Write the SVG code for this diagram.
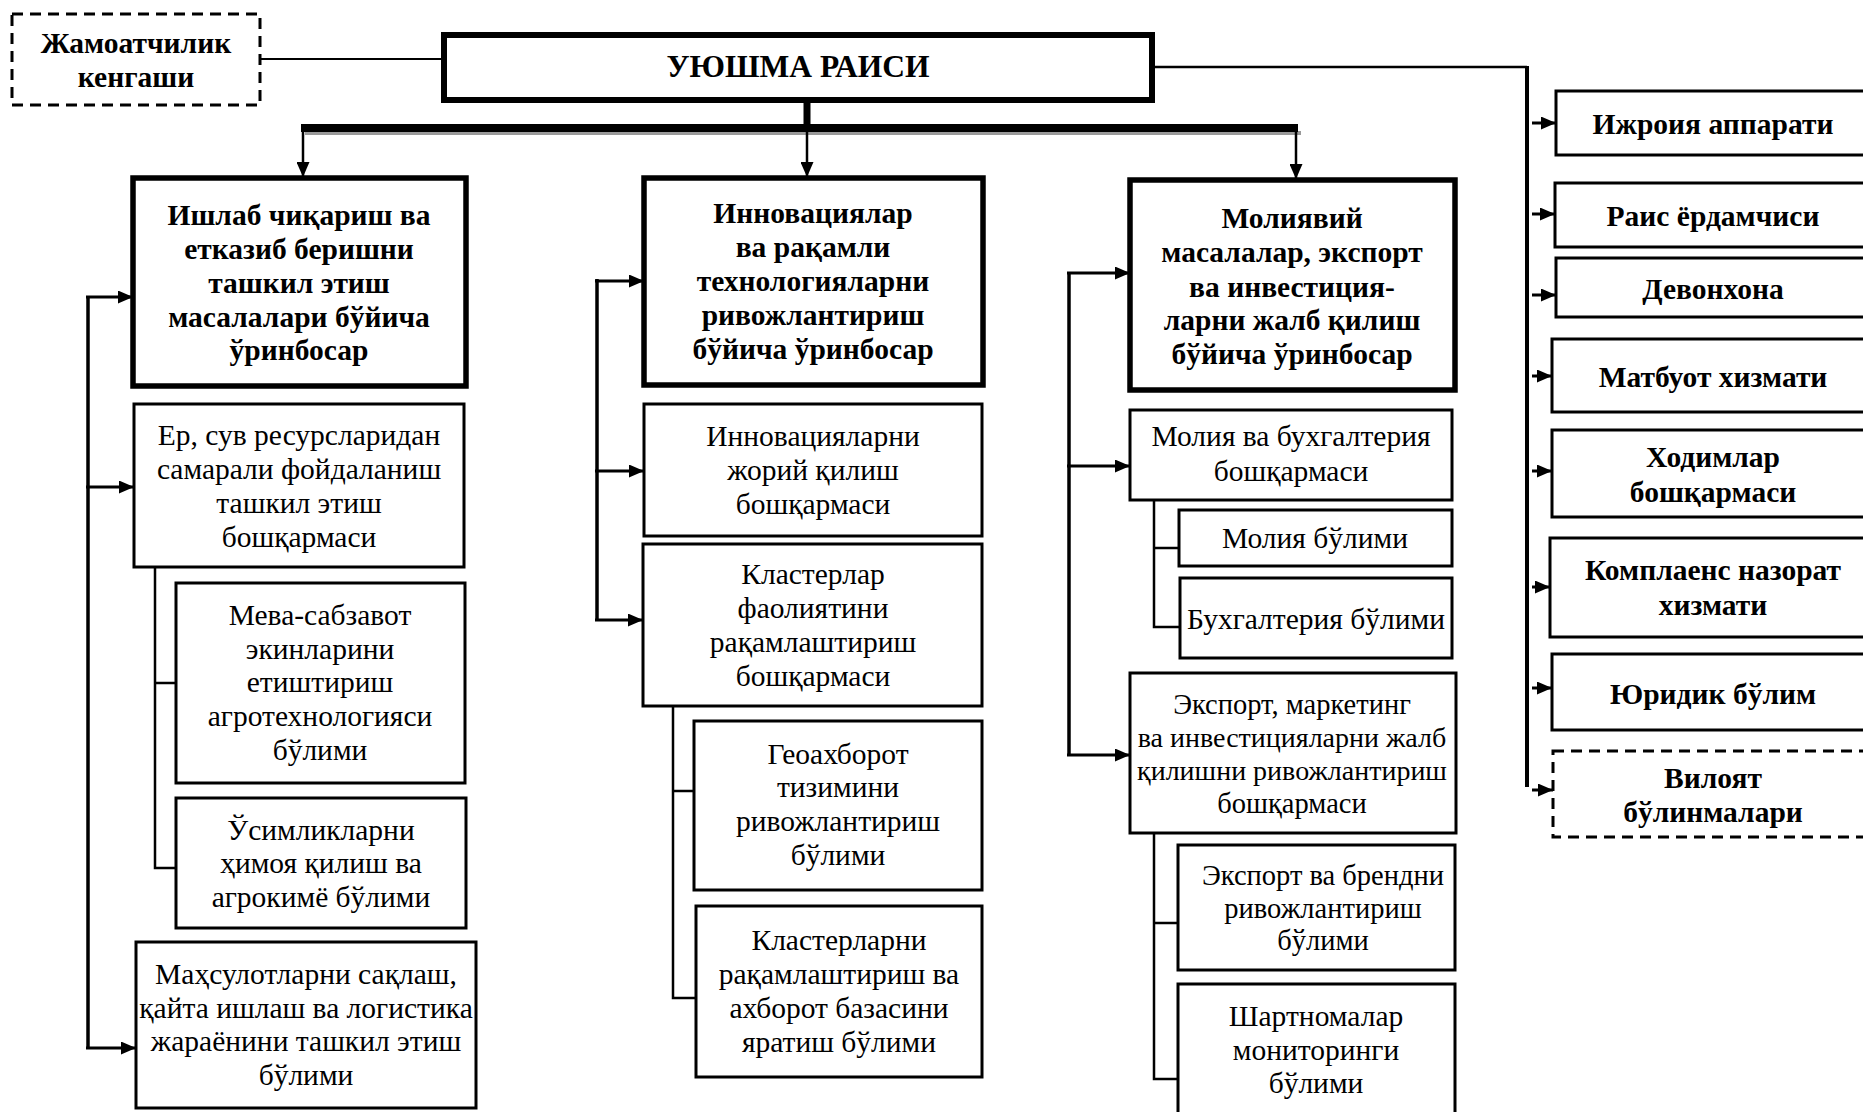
<svg xmlns="http://www.w3.org/2000/svg" width="1863" height="1112" viewBox="0 0 1863 1112">
<style>
.n{fill:#fff;stroke:#000;stroke-width:3}
.k{fill:#fff;stroke:#000;stroke-width:5.5}
.d{fill:#fff;stroke:#000;stroke-width:3;stroke-dasharray:11 7}
.b{font-family:"Liberation Serif","Times New Roman",serif;font-weight:bold;font-size:29.5px;text-anchor:middle;fill:#000}
.r{font-family:"Liberation Serif","Times New Roman",serif;font-size:29.5px;text-anchor:middle;fill:#000}
.s{fill:none;stroke:#000;stroke-width:2.5}
.a{fill:none;stroke:#000;stroke-width:3;marker-end:url(#ah)}
</style>
<defs>
<marker id="ah" markerUnits="userSpaceOnUse" markerWidth="15" markerHeight="13" refX="15" refY="6.5" orient="auto">
<path d="M0,0 L15,6.5 L0,13 z" fill="#000"/>
</marker>
</defs>
<rect width="1863" height="1112" fill="#fff"/>

<g id="connectors">
<path d="M260,59 H444" stroke="#000" stroke-width="2" fill="none"/>
<path d="M1152,67 H1527" stroke="#000" stroke-width="2.5" fill="none"/>
<path d="M1527,66 V787" stroke="#000" stroke-width="4" fill="none"/>
<path d="M807,100 V126" stroke="#000" stroke-width="7" fill="none"/>
<rect x="305" y="131" width="996" height="4" fill="#999"/>
<rect x="301" y="124" width="997" height="8" fill="#000"/>
<path class="a" d="M303,131 V177" style="stroke-width:2.5px"/>
<path class="a" d="M807,131 V177" style="stroke-width:2.5px"/>
<path class="a" d="M1296,131 V179" style="stroke-width:2.5px"/>
<path class="a" d="M1532,123 H1556"/>
<path class="a" d="M1532,214 H1555"/>
<path class="a" d="M1532,295 H1556"/>
<path class="a" d="M1532,376 H1552"/>
<path class="a" d="M1532,471 H1552"/>
<path class="a" d="M1532,587 H1550"/>
<path class="a" d="M1532,688 H1552"/>
<path class="a" d="M1532,790 H1553"/>
<path d="M88,296 V1049" stroke="#000" stroke-width="3.5" fill="none"/>
<path class="a" d="M86,297 H133"/>
<path class="a" d="M86,487 H134"/>
<path class="a" d="M86,1048 H136"/>
<path d="M597,279 V621" stroke="#000" stroke-width="3.5" fill="none"/>
<path class="a" d="M595,281 H644"/>
<path class="a" d="M595,471 H644"/>
<path class="a" d="M595,620 H643"/>
<path d="M1069,272 V756" stroke="#000" stroke-width="3.5" fill="none"/>
<path class="a" d="M1067,273 H1130"/>
<path class="a" d="M1067,466 H1130"/>
<path class="a" d="M1067,755 H1130"/>
<path class="s" d="M155,567 V868 H176 M155,683 H176"/>
<path class="s" d="M673,706 V998 H696 M673,791 H694"/>
<path class="s" d="M1154,500 V627 H1180 M1154,548 H1179"/>
<path class="s" d="M1154,833 V1079 H1178 M1154,923 H1178"/>
</g>

<g id="council">
<rect class="d" x="12" y="14" width="248" height="91"/>
<text class="b" x="136" y="53">Жамоатчилик</text>
<text class="b" x="136" y="87">кенгаши</text>
</g>
<g id="chairman">
<rect x="444" y="35" width="708" height="65" fill="#fff" stroke="#000" stroke-width="6"/>
<text class="b" x="798" y="77" style="font-size:31.5px">УЮШМА РАИСИ</text>
</g>

<g id="deputy1">
<rect class="k" x="133" y="178" width="333" height="208"/>
<text class="b" x="299" y="225">Ишлаб чиқариш ва</text>
<text class="b" x="299" y="259">етказиб беришни</text>
<text class="b" x="299" y="293">ташкил этиш</text>
<text class="b" x="299" y="327">масалалари бўйича</text>
<text class="b" x="299" y="360">ўринбосар</text>
</g>
<g id="land-water">
<rect class="n" x="134" y="404" width="330" height="163"/>
<text class="r" x="299" y="445">Ер, сув ресурсларидан</text>
<text class="r" x="299" y="479">самарали фойдаланиш</text>
<text class="r" x="299" y="513">ташкил этиш</text>
<text class="r" x="299" y="547">бошқармаси</text>
</g>
<g id="fruit-veg">
<rect class="n" x="176" y="583" width="289" height="200"/>
<text class="r" x="320" y="625">Мева-сабзавот</text>
<text class="r" x="320" y="659">экинларини</text>
<text class="r" x="320" y="692">етиштириш</text>
<text class="r" x="320" y="726">агротехнологияси</text>
<text class="r" x="320" y="760">бўлими</text>
</g>
<g id="plant-protection">
<rect class="n" x="176" y="798" width="290" height="130"/>
<text class="r" x="321" y="840">Ўсимликларни</text>
<text class="r" x="321" y="873">ҳимоя қилиш ва</text>
<text class="r" x="321" y="907">агрокимё бўлими</text>
</g>
<g id="storage">
<rect class="n" x="136" y="942" width="340" height="166"/>
<text class="r" x="306" y="984">Маҳсулотларни сақлаш,</text>
<text class="r" x="306" y="1018">қайта ишлаш ва логистика</text>
<text class="r" x="306" y="1051">жараёнини ташкил этиш</text>
<text class="r" x="306" y="1085">бўлими</text>
</g>

<g id="deputy2">
<rect class="k" x="644" y="178" width="339" height="207"/>
<text class="b" x="813" y="223">Инновациялар</text>
<text class="b" x="813" y="257">ва рақамли</text>
<text class="b" x="813" y="291">технологияларни</text>
<text class="b" x="813" y="325">ривожлантириш</text>
<text class="b" x="813" y="359">бўйича ўринбосар</text>
</g>
<g id="innovation">
<rect class="n" x="644" y="404" width="338" height="132"/>
<text class="r" x="813" y="446">Инновацияларни</text>
<text class="r" x="813" y="480">жорий қилиш</text>
<text class="r" x="813" y="514">бошқармаси</text>
</g>
<g id="clusters">
<rect class="n" x="643" y="544" width="339" height="162"/>
<text class="r" x="813" y="584">Кластерлар</text>
<text class="r" x="813" y="618">фаолиятини</text>
<text class="r" x="813" y="652">рақамлаштириш</text>
<text class="r" x="813" y="686">бошқармаси</text>
</g>
<g id="geo">
<rect class="n" x="694" y="721" width="288" height="169"/>
<text class="r" x="838" y="764">Геоахборот</text>
<text class="r" x="838" y="797">тизимини</text>
<text class="r" x="838" y="831">ривожлантириш</text>
<text class="r" x="838" y="865">бўлими</text>
</g>
<g id="cluster-digital">
<rect class="n" x="696" y="906" width="286" height="171"/>
<text class="r" x="839" y="950">Кластерларни</text>
<text class="r" x="839" y="984">рақамлаштириш ва</text>
<text class="r" x="839" y="1018">ахборот базасини</text>
<text class="r" x="839" y="1052">яратиш бўлими</text>
</g>

<g id="deputy3">
<rect class="k" x="1130" y="180" width="325" height="210"/>
<text class="b" x="1292" y="228">Молиявий</text>
<text class="b" x="1292" y="262">масалалар, экспорт</text>
<text class="b" x="1292" y="297">ва инвестиция-</text>
<text class="b" x="1292" y="330">ларни жалб қилиш</text>
<text class="b" x="1292" y="364">бўйича ўринбосар</text>
</g>
<g id="finance">
<rect class="n" x="1130" y="410" width="322" height="90"/>
<text class="r" x="1291" y="446">Молия ва бухгалтерия</text>
<text class="r" x="1291" y="481">бошқармаси</text>
</g>
<g id="finance-dept">
<rect class="n" x="1179" y="510" width="273" height="56"/>
<text class="r" x="1315" y="548">Молия бўлими</text>
</g>
<g id="accounting">
<rect class="n" x="1180" y="578" width="272" height="80"/>
<text class="r" x="1316" y="629">Бухгалтерия бўлими</text>
</g>
<g id="export">
<rect class="n" x="1130" y="673" width="326" height="160"/>
<text class="r" x="1292" y="714" style="font-size:28.5px">Экспорт, маркетинг</text>
<text class="r" x="1292" y="747" style="font-size:28px">ва инвестицияларни жалб</text>
<text class="r" x="1292" y="780" style="font-size:28px">қилишни ривожлантириш</text>
<text class="r" x="1292" y="813" style="font-size:28.5px">бошқармаси</text>
</g>
<g id="brand">
<rect class="n" x="1178" y="845" width="277" height="125"/>
<text class="r" x="1323" y="885" style="font-size:28.5px">Экспорт ва брендни</text>
<text class="r" x="1323" y="918" style="font-size:28.5px">ривожлантириш</text>
<text class="r" x="1323" y="950" style="font-size:28.5px">бўлими</text>
</g>
<g id="contracts">
<rect class="n" x="1178" y="984" width="277" height="140"/>
<text class="r" x="1316" y="1026">Шартномалар</text>
<text class="r" x="1316" y="1060">мониторинги</text>
<text class="r" x="1316" y="1093">бўлими</text>
</g>

<g id="executive">
<rect class="n" x="1556" y="91" width="330" height="64"/>
<text class="b" x="1713" y="134">Ижроия аппарати</text>
</g>
<g id="assistant">
<rect class="n" x="1555" y="183" width="330" height="64"/>
<text class="b" x="1713" y="226">Раис ёрдамчиси</text>
</g>
<g id="office">
<rect class="n" x="1556" y="258" width="330" height="59"/>
<text class="b" x="1713" y="299">Девонхона</text>
</g>
<g id="press">
<rect class="n" x="1552" y="339" width="330" height="73"/>
<text class="b" x="1713" y="387">Матбуот хизмати</text>
</g>
<g id="hr">
<rect class="n" x="1552" y="430" width="330" height="87"/>
<text class="b" x="1713" y="467">Ходимлар</text>
<text class="b" x="1713" y="502">бошқармаси</text>
</g>
<g id="compliance">
<rect class="n" x="1550" y="538" width="330" height="99"/>
<text class="b" x="1713" y="580">Комплаенс назорат</text>
<text class="b" x="1713" y="615">хизмати</text>
</g>
<g id="legal">
<rect class="n" x="1552" y="654" width="330" height="76"/>
<text class="b" x="1713" y="704">Юридик бўлим</text>
</g>
<g id="regional">
<rect class="d" x="1553" y="751" width="330" height="86"/>
<text class="b" x="1713" y="788">Вилоят</text>
<text class="b" x="1713" y="822">бўлинмалари</text>
</g>
</svg>
